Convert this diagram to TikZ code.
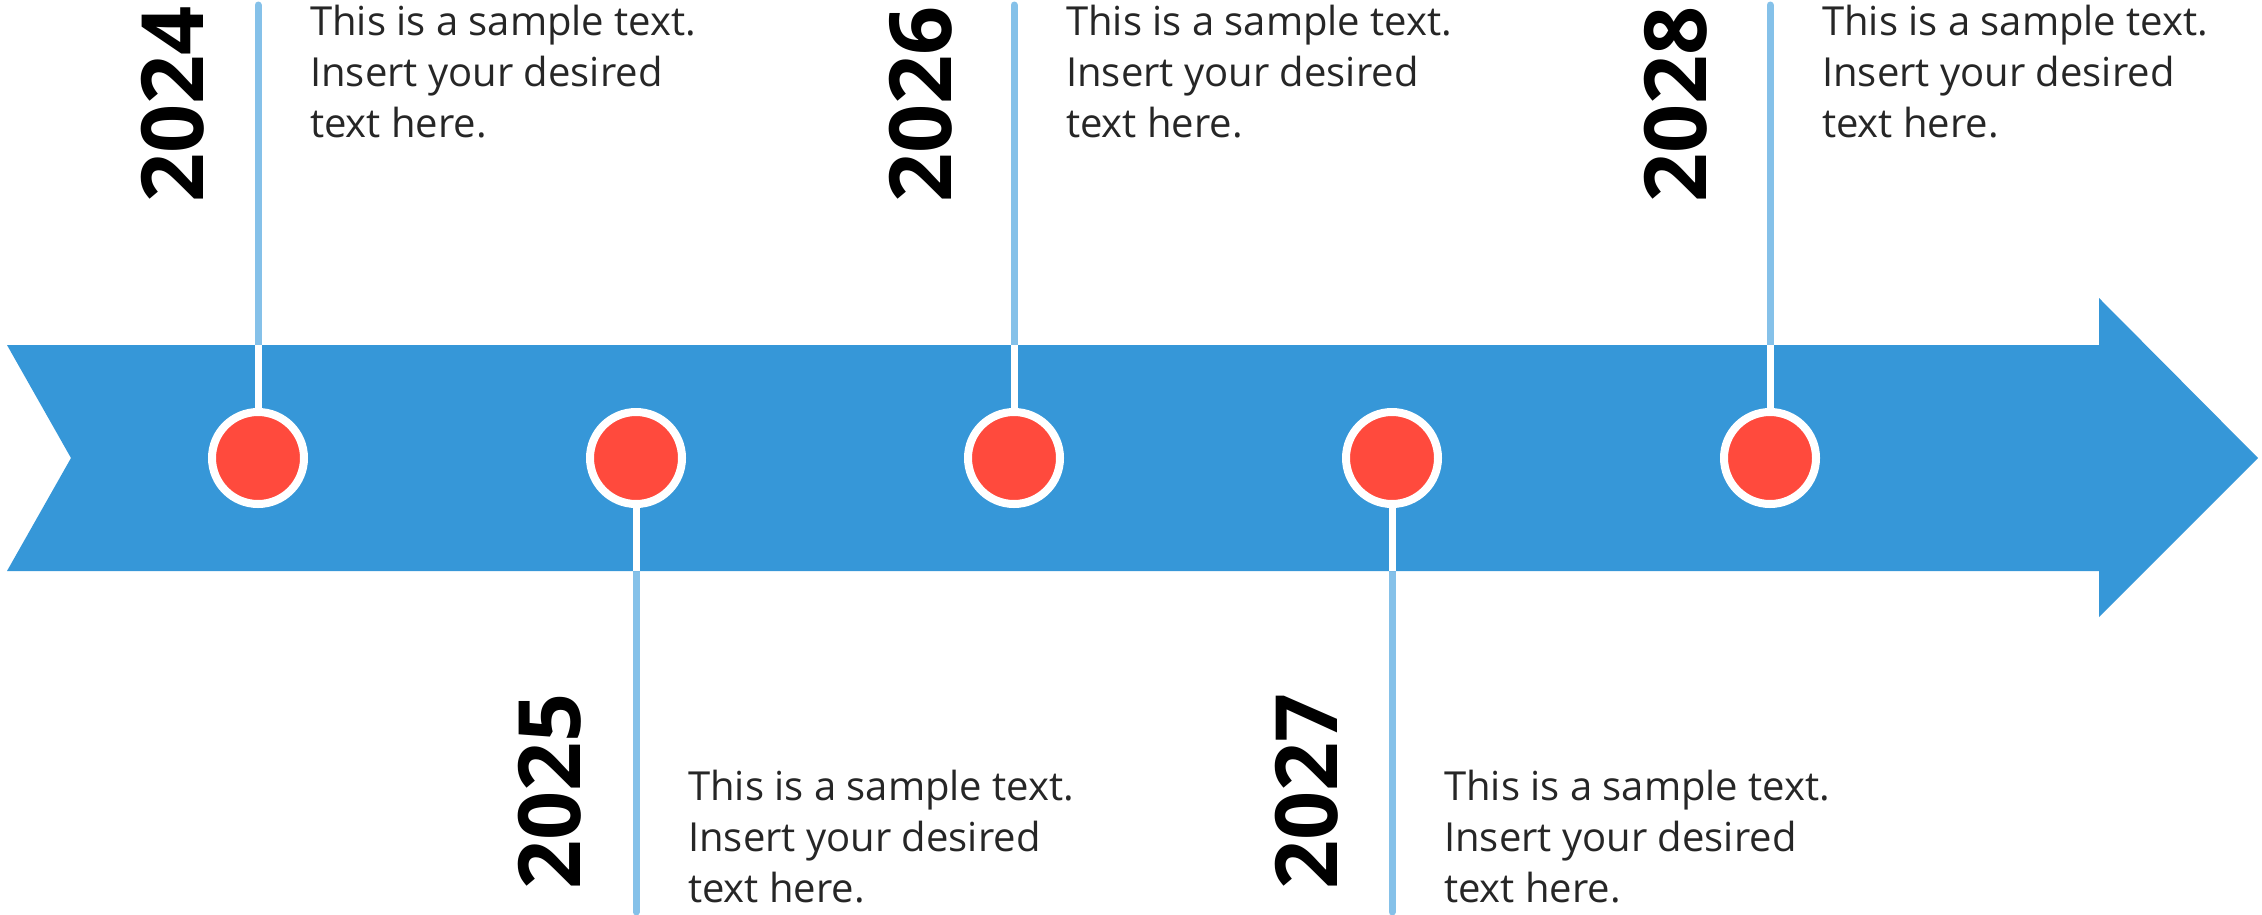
\documentclass[tikz,border=0pt]{standalone}
\usepackage{fontspec}
\setmainfont{Open Sans}
\definecolor{bandblue}{RGB}{54,151,216}
\definecolor{dotred}{RGB}{255,74,61}
\definecolor{lineblue}{RGB}{133,193,233}
\definecolor{txtgray}{RGB}{38,38,38}
\tikzset{
  dot/.style={circle, fill=dotred, draw=white, line width=8pt, minimum size=92pt, inner sep=0pt},
  conn/.style={draw=lineblue, line width=7pt, line cap=round},
  stem/.style={draw=white, line width=7pt},
  year/.style={rotate=90, anchor=base west, inner sep=0pt, font=\fontsize{86}{86}\selectfont\bfseries, text=black},
  desc/.style={anchor=base west, inner sep=0pt, align=left, text=txtgray, font=\fontsize{40}{51}\selectfont}
}
\begin{document}
\begin{tikzpicture}[x=1pt,y=-1pt]
\useasboundingbox (0,0) rectangle (2262,914);
% connector coordinates
\foreach \i/\x in {1/258,3/1014,5/1770}{
  \coordinate (t\i) at (\x,5);
  \coordinate (b\i) at (\x,345);
}
\foreach \i/\x in {2/636,4/1392}{
  \coordinate (b\i) at (\x,571);
  \coordinate (t\i) at (\x,912);
}
\foreach \i in {1,...,5}{ \draw[conn] (t\i) -- (b\i); }
% band arrow
\fill[bandblue] (7,345) -- (2099,345) -- (2099,298) -- (2258,458) -- (2099,617) -- (2099,571) -- (7,571) -- (71,458) -- cycle;
% dots
\foreach \i/\x in {1/258,2/636,3/1014,4/1392,5/1770}{
  \node[dot] (c\i) at (\x,458) {};
}
\foreach \i in {1,3,5}{ \draw[stem] (b\i) -- (c\i.north); }
\foreach \i in {2,4}{ \draw[stem] (c\i.south) -- (b\i); }
% years
\node[year] (y1) at (203,203) {2024};
\node[year] (y3) at (951,203) {2026};
\node[year] (y5) at (1706,203) {2028};
\node[year] (y2) at (580,890) {2025};
\node[year] (y4) at (1337,890) {2027};
% descriptions
\foreach \i/\x/\y in {1/310/137,3/1066/137,5/1822/137,2/688/902,4/1444/902}{
  \node[desc] (d\i) at (\x,\y) {This is a sample text.\\Insert your desired\\text here.};
}
\end{tikzpicture}
\end{document}
